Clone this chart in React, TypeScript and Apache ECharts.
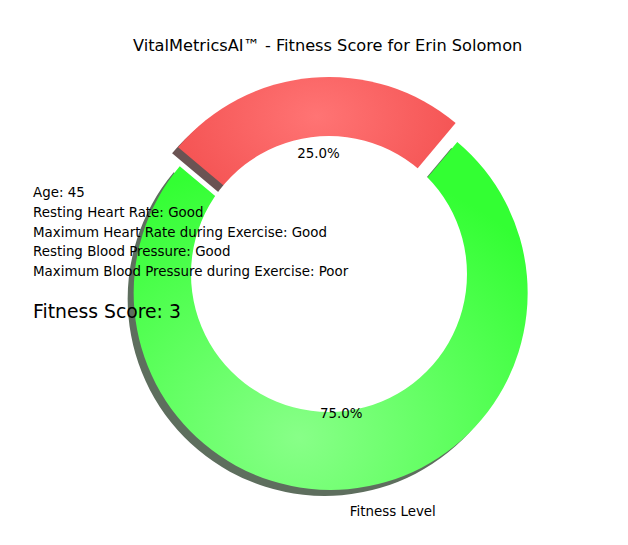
import React, { useEffect, useRef } from "react";
import * as echarts from "echarts";

// slice data (green slice drawn first, counter-clockwise from 140deg)
const categories = ["Fitness Level", ""];
const values = [75, 25];
const shadowColors = ["#5e6e5e", "#6a5353"];
const explodeFlags = [true, false];

const titleText = "VitalMetricsAI™ - Fitness Score for Erin Solomon";
const infoLines = [
  "Age: 45",
  "Resting Heart Rate: Good",
  "Maximum Heart Rate during Exercise: Good",
  "Resting Blood Pressure: Good",
  "Maximum Blood Pressure during Exercise: Poor",
];
const scoreText = "Fitness Score: 3";

const CX = 329;
const CY = 274;
const R = 197;
const HOLE = 138;
const EXPLODE = 19;
const FONT = "DejaVu Sans";

const greenFill = {
  type: "radial",
  x: 0.42,
  y: 0.85,
  r: 0.8,
  colorStops: [
    { offset: 0, color: "#88ff88" },
    { offset: 1, color: "#33ff33" },
  ],
};
const redFill = {
  type: "radial",
  x: 0.5,
  y: 0.2,
  r: 0.75,
  colorStops: [
    { offset: 0, color: "#ff7474" },
    { offset: 1, color: "#f04646" },
  ],
};

const App: React.FC = () => {
  const chartRef = useRef<HTMLDivElement>(null);

  useEffect(() => {
    if (!chartRef.current) return;
    const myChart = echarts.init(chartRef.current, null, { renderer: "svg" });

    const fills = [greenFill, redFill];
    const baseData = (colorFor: (i: number) => any) =>
      categories.map((name, i) => ({
        name,
        value: values[i],
        selected: explodeFlags[i],
        itemStyle: { color: colorFor(i) },
      }));

    const common: any = {
      type: "pie",
      startAngle: 140,
      clockwise: false,
      selectedMode: "multiple",
      selectedOffset: EXPLODE,
      silent: true,
      avoidLabelOverlap: false,
      labelLine: { show: false },
      emphasis: { disabled: true },
    };

    const option: any = {
      animation: false,
      title: [
        {
          text: titleText,
          left: 133,
          top: 37,
          padding: 0,
          textStyle: { fontFamily: FONT, fontSize: 16.2, fontWeight: "normal", color: "#000" },
        },
        {
          text: infoLines.join("\n"),
          left: 33,
          top: 183,
          padding: 0,
          textStyle: {
            fontFamily: FONT,
            fontSize: 13.4,
            fontWeight: "normal",
            color: "#000",
            lineHeight: 19.6,
          },
        },
        {
          text: scoreText,
          left: 33,
          top: 300,
          padding: 0,
          textStyle: { fontFamily: FONT, fontSize: 18.8, fontWeight: "normal", color: "#000", lineHeight: 22 },
        },
      ],
      series: [
        {
          ...common,
          z: 1,
          center: [CX - 6, CY + 6],
          radius: [0, R],
          label: { show: false },
          data: baseData((i) => shadowColors[i]),
        },
        {
          ...common,
          z: 2,
          center: [CX, CY],
          radius: [0, R],
          label: { show: false },
          data: baseData((i) => fills[i]),
        },
        {
          type: "pie",
          z: 3,
          silent: true,
          center: [CX, CY],
          radius: [0, HOLE],
          label: { show: false },
          labelLine: { show: false },
          emphasis: { disabled: true },
          data: [{ value: 1, itemStyle: { color: "#ffffff" } }],
        },
        {
          ...common,
          z: 4,
          center: [CX, CY],
          radius: [0, R * 1.2],
          itemStyle: { color: "rgba(0,0,0,0)" },
          label: {
            show: true,
            position: "inside",
            fontFamily: FONT,
            fontSize: 13.4,
            color: "#000",
            formatter: (p: any) => p.percent.toFixed(1) + "%",
          },
          data: baseData(() => "rgba(0,0,0,0)"),
        },
        {
          ...common,
          z: 4,
          center: [CX, CY],
          radius: [0, R * 2.2],
          itemStyle: { color: "rgba(0,0,0,0)" },
          label: {
            show: true,
            position: "inside",
            fontFamily: FONT,
            fontSize: 13.4,
            color: "#000",
            formatter: (p: any) => p.name,
          },
          labelLayout: { align: "left" },
          data: baseData(() => "rgba(0,0,0,0)"),
        },
      ],
    };

    myChart.setOption(option);

    return () => {
      myChart.dispose();
    };
  }, []);

  return (
    <div
      ref={chartRef}
      style={{ position: "fixed", left: 0, top: 0, width: "628px", height: "545px", background: "#fff" }}
    />
  );
};

export default App;
